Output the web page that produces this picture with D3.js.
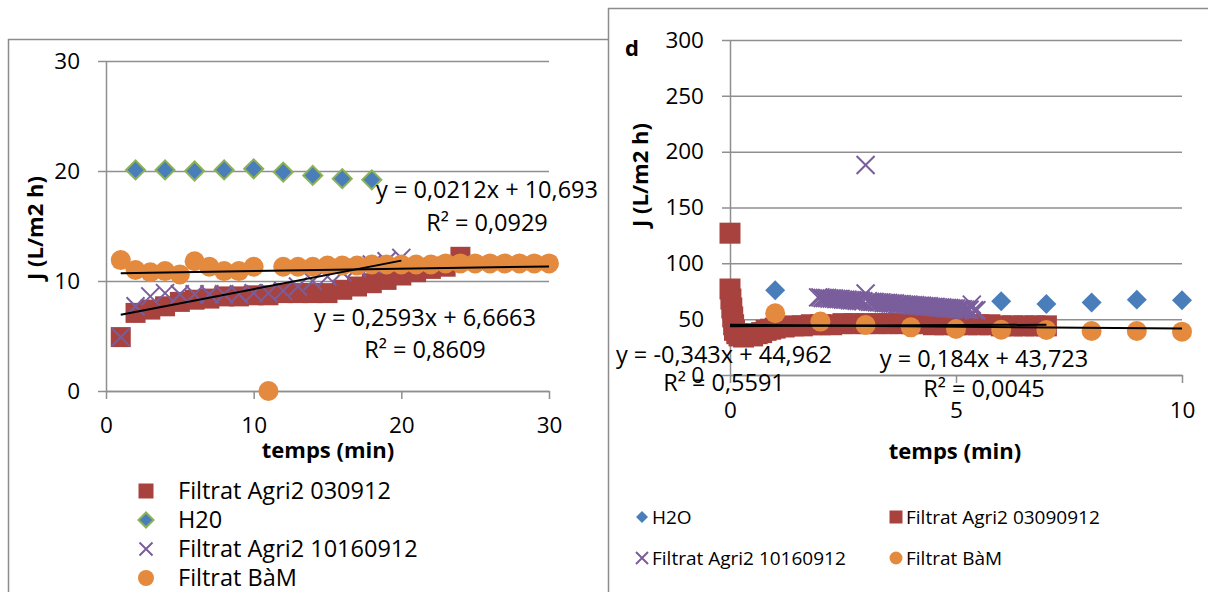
<!DOCTYPE html>
<html>
<head>
<meta charset="utf-8">
<script src="https://cdn.jsdelivr.net/npm/d3@7"></script>
<style>
  body { margin: 0; background: #fff; }
  text { font-family: "Open Sans", sans-serif; fill: #000; }
</style>
</head>
<body>
<svg id="chart" width="1208" height="592"></svg>
<script>
// ---- left panel data (temps in min, J in L/m2 h) ----
var leftTicksX = [0, 10, 20, 30];
var leftTicksY = [0, 10, 20, 30];

var tAgri030912 = [1, 2, 3, 4, 5, 6, 7, 8, 9, 10, 11, 12, 13, 14, 15, 16, 17, 18, 19, 20, 21, 22, 23, 24];
var jAgri030912 = [4.9, 7.1, 7.4, 7.7, 8.1, 8.3, 8.4, 8.6, 8.6, 8.7, 8.7, 8.9, 8.9, 8.9, 8.9, 9.2, 9.5, 9.8, 10.1, 10.5, 10.8, 11.1, 11.3, 12.2];

var tH20 = [2, 4, 6, 8, 10, 12, 14, 16, 18];
var jH20 = [20.1, 20.1, 20.0, 20.1, 20.2, 19.9, 19.6, 19.3, 19.2];

var tAgri10160912L = [1, 2, 3, 4, 5, 6, 7, 8, 9, 10, 11, 12, 13, 14, 15, 16, 17, 18, 19, 20];
var jAgri10160912L = [4.9, 7.7, 8.6, 8.9, 8.8, 8.8, 8.8, 8.8, 8.8, 8.9, 8.9, 9.1, 9.5, 10.0, 10.4, 10.8, 11.2, 11.5, 11.8, 12.1];

var tBamL = [1, 2, 3, 4, 5, 6, 7, 8, 9, 10, 11, 12, 13, 14, 15, 16, 17, 18, 19, 20, 21, 22, 23, 24, 25, 26, 27, 28, 29, 30];
var jBamL = [11.9, 11.0, 10.8, 10.9, 10.6, 11.8, 11.3, 10.9, 10.9, 11.3, 0, 11.3, 11.3, 11.3, 11.4, 11.4, 11.4, 11.5, 11.5, 11.5, 11.5, 11.5, 11.6, 11.6, 11.6, 11.6, 11.6, 11.6, 11.6, 11.6];

// trendlines: [slope, intercept, xStart, xEnd], label lines
var trendBamL = [0.0212, 10.693, 1, 30];
var trendBamLText = ["y = 0,0212x + 10,693", "R\u00b2 = 0,0929"];
var trendAgriL = [0.2593, 6.6663, 1, 20];
var trendAgriLText = ["y = 0,2593x + 6,6663", "R\u00b2 = 0,8609"];

// ---- right panel data ----
var rightTicksX = [0, 5, 10];
var rightTicksY = [0, 50, 100, 150, 200, 250, 300];

var tH2O = [1, 6, 7, 8, 9, 10];
var jH2O = [76, 66, 63.5, 65, 67.5, 67];

var tAgri03090912 = [0, 0, 0.02, 0.04, 0.06, 0.08, 0.1, 0.15, 0.2, 0.3, 0.4, 0.5, 0.6, 0.7, 0.8, 0.9, 1.0, 1.2, 1.4, 1.6, 1.8, 2.0, 2.25, 2.5, 2.75, 3.0, 3.25, 3.5, 3.75, 4.0, 4.25, 4.5, 4.75, 5.0, 5.25, 5.5, 5.75, 6.0, 6.25, 6.5, 6.75, 7.0];
var jAgri03090912 = [127, 77, 68, 60, 52, 45, 40, 37, 35, 34, 36, 35, 37, 38, 40, 41, 42, 43, 44, 44, 45, 45, 45, 46, 46, 46, 46, 46, 46, 46, 46, 45, 45, 45, 45, 45, 45, 44, 44, 44, 44, 44];

var tAgri10160912R = [1.95, 2.0, 2.05, 2.1, 2.15, 2.2, 2.25, 2.3, 2.35, 2.4, 2.45, 2.5, 2.55, 2.6, 2.65, 2.7, 2.75, 2.8, 2.85, 2.9,
  2.95, 3.0, 3.05, 3.1, 3.15, 3.2, 3.25, 3.3, 3.35, 3.4, 3.45, 3.5, 3.55, 3.6, 3.65, 3.7, 3.75, 3.8, 3.85, 3.9,
  3.95, 4.0, 4.05, 4.1, 4.15, 4.2, 4.25, 4.3, 4.35, 4.4, 4.45, 4.5, 4.55, 4.6, 4.65, 4.7, 4.75, 4.8, 4.85, 4.9,
  4.95, 5.0, 5.05, 5.1, 5.15, 5.2, 5.25, 5.3, 5.35, 5.4, 5.45, 3.0];
var jAgri10160912R = [69.5, 69.5, 69, 69, 69, 68.5, 68.5, 68.5, 68, 68, 68, 67.5, 67.5, 67.5, 67, 67, 67, 66.5, 66.5, 66.5,
  66, 73, 66, 65.5, 65.5, 65.5, 65, 65, 65, 64.5, 64.5, 64.5, 64, 64, 64, 63.5, 63.5, 63.5, 63, 63,
  63, 62.5, 62.5, 62.5, 62, 62, 62, 61.5, 61.5, 61.5, 61, 61, 61, 60.5, 60.5, 60.5, 60, 60, 60, 59.5,
  59.5, 59.5, 59, 59, 59, 58.5, 58.5, 58.5, 63, 58, 58, 188];

var tBamR = [1, 2, 3, 4, 5, 6, 7, 8, 9, 10];
var jBamR = [55.3, 47.8, 44.8, 42.7, 41.2, 40.5, 40.3, 39.4, 39.4, 38.8];

var trendA = [-0.343, 44.962, 0, 10];
var trendAText = ["y = -0,343x + 44,962", "R\u00b2 = 0,5591"];
var trendB = [0.184, 43.723, 0, 7];
var trendBText = ["y = 0,184x + 43,723", "R\u00b2 = 0,0045"];

// ---- styling ----
var gridColor = "#8f8f8f";
var red = "#A8423F", blue = "#4A7EBB", green = "#8DB255", purple = "#7A5E9C", orange = "#E48A3E";

var svg = d3.select("#chart");

// chart frames
svg.append("rect")
  .attr("x", 8.5).attr("y", 39.5).attr("width", 610).attr("height", 620)
  .attr("fill", "#fff").attr("stroke", "#8c8c8c").attr("stroke-width", 1.5);
svg.append("rect")
  .attr("x", 608.5).attr("y", 8.5).attr("width", 700).attr("height", 700)
  .attr("fill", "#fff").attr("stroke", "#8c8c8c").attr("stroke-width", 1.5);

function markerPath(type, s) {
  if (type === "x") {
    var h = s / 2;
    return "M" + (-h) + "," + (-h) + "L" + h + "," + h + "M" + (-h) + "," + h + "L" + h + "," + (-h);
  }
  if (type === "circle") return d3.symbol(d3.symbolCircle, Math.PI * s * s / 4)();
  if (type === "diamond") return d3.symbol(d3.symbolSquare, s * s / 2)();
  return d3.symbol(d3.symbolSquare, s * s)();
}

function styleMarker(sel, s) {
  sel.attr("d", markerPath(s.type, s.size))
    .attr("fill", s.type === "x" ? "none" : s.fill)
    .attr("stroke", s.type === "x" ? s.fill : (s.stroke || "none"))
    .attr("stroke-width", s.type === "x" ? 2 : (s.stroke ? 2 : 0));
}

function drawPanel(p) {
  var x = d3.scaleLinear().domain(p.xDomain).range(p.xRange);
  var y = d3.scaleLinear().domain(p.yDomain).range(p.yRange);
  var g = svg.append("g");

  // horizontal gridlines with the y tick labels
  var grid = g.append("g")
    .attr("transform", "translate(" + p.xRange[1] + ",0)")
    .call(d3.axisLeft(y).tickValues(p.yTicks)
      .tickSize(p.xRange[1] - p.xRange[0] + 8).tickPadding(18));
  grid.select(".domain").remove();
  grid.selectAll("line").attr("stroke", gridColor).attr("stroke-width", 1.5);
  grid.attr("font-family", null).attr("font-size", null);
  grid.selectAll("text").style("font-size", "22.5px").attr("fill", "#000");

  // y axis line
  var ya = g.append("g")
    .attr("transform", "translate(" + p.xRange[0] + ",0)")
    .call(d3.axisLeft(y).tickValues([]).tickSizeOuter(0));
  ya.select(".domain").attr("stroke", gridColor).attr("stroke-width", 1.5);

  // x axis
  var xa = g.append("g")
    .attr("transform", "translate(0," + p.yRange[0] + ")")
    .call(d3.axisBottom(x).tickValues(p.xTicks).tickSize(8).tickSizeOuter(0));
  xa.attr("font-family", null).attr("font-size", null);
  xa.select(".domain").attr("stroke", gridColor).attr("stroke-width", 1.5);
  xa.selectAll("line").attr("stroke", gridColor).attr("stroke-width", 1.5);
  xa.selectAll("text").style("font-size", "22.5px").attr("fill", "#000")
    .attr("y", p.xLabelOffset).attr("dy", "0.35em");

  // series (drawn in legend order)
  p.series.forEach(function (s) {
    g.append("g").selectAll("path")
      .data(d3.zip(s.xs, s.ys))
      .join("path")
      .attr("transform", function (d) {
        return "translate(" + x(d[0]) + "," + y(d[1]) + ")" + (s.type === "diamond" ? " rotate(45)" : "");
      })
      .call(styleMarker, s);
  });

  // trendlines + equations
  p.trends.forEach(function (t) {
    var c = t.coef;
    g.append("line")
      .attr("x1", x(c[2])).attr("y1", y(c[0] * c[2] + c[1]))
      .attr("x2", x(c[3])).attr("y2", y(c[0] * c[3] + c[1]))
      .attr("stroke", "#000").attr("stroke-width", 2);
    t.text.forEach(function (line, i) {
      g.append("text")
        .attr("x", t.lx).attr("y", t.ly + i * t.lh)
        .attr("text-anchor", "middle").attr("dy", "0.35em")
        .style("font-size", "23.5px")
        .text(line);
    });
  });

  // axis titles
  g.append("text")
    .attr("x", p.xTitle[0]).attr("y", p.xTitle[1])
    .attr("text-anchor", "middle").attr("dy", "0.35em")
    .style("font-size", "22px").style("font-weight", "bold")
    .text("temps (min)");
  g.append("text")
    .attr("transform", "translate(" + p.yTitle[0] + "," + p.yTitle[1] + ") rotate(-90)")
    .attr("text-anchor", "middle").attr("dy", "0.35em")
    .style("font-size", "22px").style("font-weight", "bold")
    .text("J (L/m2 h)");

  // legend
  var lg = g.append("g");
  p.series.forEach(function (s, i) {
    var pos = p.legendPos[i];
    lg.append("path")
      .attr("transform", "translate(" + pos[0] + "," + pos[1] + ")" + (s.type === "diamond" ? " rotate(45)" : ""))
      .call(styleMarker, Object.assign({}, s, { size: s.legendSize }));
    lg.append("text")
      .attr("x", pos[0] + p.legendGap).attr("y", pos[1]).attr("dy", "0.35em")
      .style("font-size", p.legendFont)
      .text(s.name);
  });
}

drawPanel({
  xDomain: [0, 30], xRange: [106, 549],
  yDomain: [0, 30], yRange: [391, 61],
  xTicks: leftTicksX, yTicks: leftTicksY, xLabelOffset: 34,
  series: [
    { name: "Filtrat Agri2 030912", xs: tAgri030912, ys: jAgri030912, type: "square", size: 20, legendSize: 15, fill: red },
    { name: "H20", xs: tH20, ys: jH20, type: "diamond", size: 19, legendSize: 15, fill: blue, stroke: green },
    { name: "Filtrat Agri2 10160912", xs: tAgri10160912L, ys: jAgri10160912L, type: "x", size: 18, legendSize: 13, fill: purple },
    { name: "Filtrat B\u00e0M", xs: tBamL, ys: jBamL, type: "circle", size: 20, legendSize: 16, fill: orange }
  ],
  trends: [
    { coef: trendBamL, text: trendBamLText, lx: 487, ly: 190, lh: 33 },
    { coef: trendAgriL, text: trendAgriLText, lx: 425, ly: 318, lh: 32 }
  ],
  xTitle: [328, 450], yTitle: [35, 228],
  legendPos: [[146, 491], [146, 520], [146, 549], [146, 578]],
  legendGap: 32, legendFont: "23.5px"
});

drawPanel({
  xDomain: [0, 10], xRange: [730, 1182],
  yDomain: [0, 300], yRange: [375, 40],
  xTicks: rightTicksX, yTicks: rightTicksY, xLabelOffset: 35,
  series: [
    { name: "H2O", xs: tH2O, ys: jH2O, type: "diamond", size: 20, legendSize: 12, fill: blue },
    { name: "Filtrat Agri2 03090912", xs: tAgri03090912, ys: jAgri03090912, type: "square", size: 21, legendSize: 13, fill: red },
    { name: "Filtrat Agri2 10160912", xs: tAgri10160912R, ys: jAgri10160912R, type: "x", size: 18, legendSize: 12, fill: purple },
    { name: "Filtrat B\u00e0M", xs: tBamR, ys: jBamR, type: "circle", size: 20, legendSize: 13, fill: orange }
  ],
  trends: [
    { coef: trendA, text: trendAText, lx: 724, ly: 355, lh: 28 },
    { coef: trendB, text: trendBText, lx: 984, ly: 359, lh: 30 }
  ],
  xTitle: [955, 451], yTitle: [640, 175],
  legendPos: [[642, 517], [896, 517], [642, 558], [896, 558]],
  legendGap: 10, legendFont: "19px"
});

svg.append("text")
  .attr("x", 632).attr("y", 48).attr("dy", "0.35em")
  .attr("text-anchor", "middle")
  .style("font-size", "22px").style("font-weight", "bold")
  .text("d");
</script>
</body>
</html>
